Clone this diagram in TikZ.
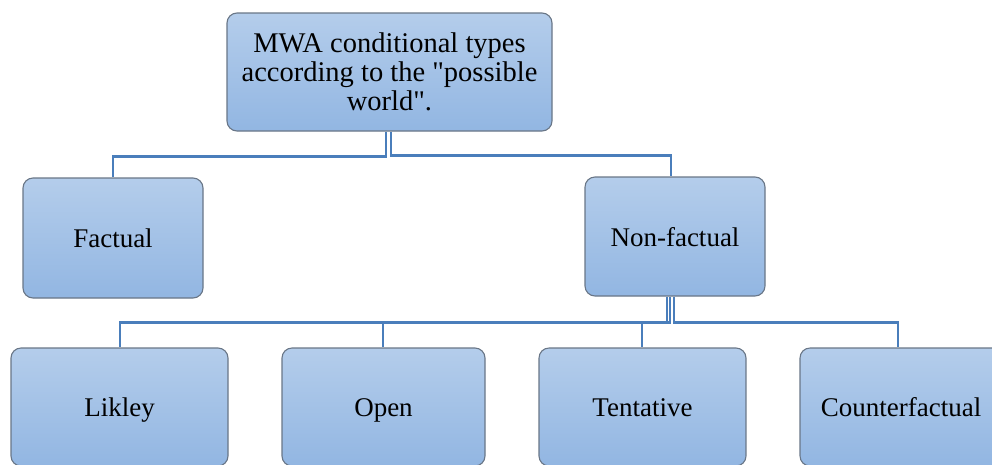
\documentclass[tikz,border=0pt]{standalone}
\usepackage{fontspec}
\setmainfont{Liberation Serif}
\newfontfamily\plainserif{Liberation Serif}
\begin{document}
\begin{tikzpicture}[x=1pt,y=-1pt,
  box/.style={draw={rgb,255:red,105;green,118;blue,135}, line width=1.1pt,
    rounded corners=10pt,
    top color={rgb,255:red,180;green,205;blue,235},
    bottom color={rgb,255:red,146;green,182;blue,226},
    font=\plainserif\fontsize{27}{30}\selectfont, align=center, inner sep=0pt},
  single/.style={text height=21pt, text depth=2pt},
  link/.style={draw={rgb,255:red,74;green,126;blue,187}, line width=2.9pt}]
\useasboundingbox (0,0) rectangle (992,464);
\node[box, font=\plainserif\fontsize{28.5}{29}\selectfont, minimum width=325pt, minimum height=118pt] (root) at (389.5,72)
  {MWA conditional types\\according to the "possible\\world".};
\node[box, single, minimum width=180pt, minimum height=120pt] (fact) at (113,238) {Factual};
\node[box, single, minimum width=180pt, minimum height=119pt] (nonfact) at (675,236.5) {Non-factual};
\node[box, single, minimum width=217pt, minimum height=118pt] (lik) at (119.5,407) {Likley};
\node[box, single, minimum width=203pt, minimum height=118pt] (open) at (383.5,407) {Open};
\node[box, single, minimum width=207pt, minimum height=118pt] (tent) at (642.5,407) {Tentative};
\node[box, single, minimum width=202pt, minimum height=118pt] (cf) at (901,407) {Counterfactual};
\draw[link] ([xshift=-3.5pt]root.south) -- ++(0,25) -| (fact.north);
\draw[link] ([xshift=1.5pt]root.south) -- ++(0,24) -| ([xshift=-4pt]nonfact.north);
\draw[link] ([xshift=-8pt]nonfact.south) -- ++(0,25.5) -| ([xshift=0.5pt]lik.north);
\draw[link] ([xshift=-8pt]nonfact.south) -- ++(0,25.5) -| ([xshift=-0.5pt]open.north);
\draw[link] ([xshift=-5pt]nonfact.south) -- ++(0,25.5) -| ([xshift=-0.5pt]tent.north);
\draw[link] ([xshift=-1pt]nonfact.south) -- ++(0,25.5) -| ([xshift=-3pt]cf.north);
\end{tikzpicture}
\end{document}
